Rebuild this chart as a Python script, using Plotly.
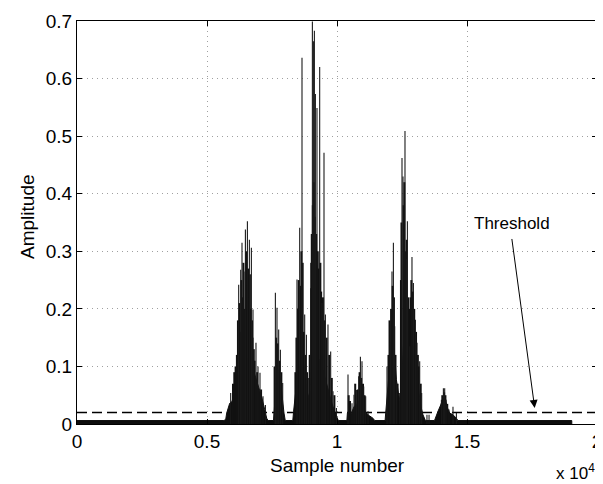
import plotly.graph_objects as go

# ---- data (sample number, amplitude) ----
# envelope of the dense (solid black) part of the signal
env_samples = [0, 5650, 5720, 5757, 5873, 5962, 6065, 6169, 6257, 6346, 6450, 6577, 6680, 6784, 6900, 7000, 7115, 7219, 7296, 7350,
               7560, 7590, 7630, 7692, 7757, 7822, 7884, 7961, 8010,
               8300, 8330, 8400, 8500, 8592, 8692, 8784, 8884, 8961, 9038, 9142, 9269, 9373, 9477, 9577, 9680, 9784, 9884, 9988, 10050,
               10380, 10400, 10527, 10654, 10784, 10884, 10988, 11115, 11257, 11384, 11450,
               11850, 11873, 11950, 12027, 12104, 12154, 12219, 12284, 12361, 12438, 12500, 12565, 12630, 12692, 12769, 12846, 12923, 13000, 13077, 13154, 13230, 13307, 13400,
               13750, 13757, 13884, 13988, 14077, 14153, 14230, 14334, 14461, 14592, 14650,
               19030, 19031]
env_amps = [0.006, 0.006, 0.008, 0.019, 0.036, 0.039, 0.059, 0.071, 0.089, 0.094, 0.106, 0.115, 0.109, 0.094, 0.077, 0.059, 0.045, 0.025, 0.010, 0.006,
            0.006, 0.025, 0.059, 0.083, 0.094, 0.077, 0.048, 0.019, 0.006,
            0.006, 0.022, 0.051, 0.068, 0.109, 0.115, 0.080, 0.045, 0.057, 0.103, 0.117, 0.115, 0.109, 0.091, 0.071, 0.054, 0.039, 0.025, 0.013, 0.006,
            0.006, 0.019, 0.016, 0.030, 0.036, 0.043, 0.033, 0.019, 0.014, 0.010, 0.006,
            0.006, 0.019, 0.065, 0.112, 0.141, 0.158, 0.123, 0.077, 0.054, 0.036, 0.089, 0.146, 0.158, 0.112, 0.112, 0.129, 0.135, 0.112, 0.083, 0.054, 0.030, 0.016, 0.006,
            0.006, 0.007, 0.022, 0.033, 0.045, 0.048, 0.030, 0.019, 0.016, 0.010, 0.006,
            0.006, 0.0]

# individual tall spikes
spike_samples = [5911, 6219, 6296, 6346, 6423, 6477, 6554, 6630, 6707, 6769, 6884, 6961, 7038, 7154, 7246,
                 7630, 7692, 7757, 7822, 7911,
                 8461, 8565, 8654, 8757, 8823, 8911, 8988, 9053, 9092, 9130, 9169, 9230, 9334, 9423, 9500, 9553, 9653, 9757, 9846, 9977,
                 10423, 10577, 10654, 10746, 10834, 10900, 10961, 11027, 11103, 11192,
                 11923, 12054, 12115, 12169, 12219, 12284, 12411, 12500, 12538, 12615, 12669, 12707, 12796, 12884, 12938, 13015, 13077, 13180, 13257, 13460, 13540,
                 14015, 14092, 14142, 14192, 14307, 14461, 14592]
spike_amps = [0.054, 0.242, 0.268, 0.315, 0.265, 0.338, 0.352, 0.320, 0.306, 0.199, 0.141, 0.100, 0.089, 0.048, 0.033,
              0.228, 0.202, 0.164, 0.129, 0.071,
              0.251, 0.341, 0.636, 0.190, 0.155, 0.080, 0.236, 0.699, 0.665, 0.683, 0.573, 0.549, 0.620, 0.210, 0.471, 0.190, 0.173, 0.126, 0.057, 0.028,
              0.086, 0.036, 0.051, 0.059, 0.083, 0.117, 0.109, 0.065, 0.048, 0.022,
              0.100, 0.141, 0.265, 0.315, 0.170, 0.071, 0.054, 0.462, 0.430, 0.509, 0.286, 0.352, 0.135, 0.290, 0.245, 0.181, 0.141, 0.109, 0.054, 0.016, 0.016,
              0.042, 0.062, 0.062, 0.042, 0.025, 0.030, 0.019]

# dense medium-height spikes that make up the dark body of each burst
body_samples = [6000, 6050, 6100, 6150, 6190, 6250, 6270, 6320, 6370, 6400, 6440, 6500, 6520, 6580, 6600, 6650, 6680, 6730, 6750, 6800, 6830, 6930, 7080,
                7600, 7660, 7720, 7790, 7860,
                8400, 8440, 8500, 8530, 8600, 8630, 8680, 8720, 8780, 8850, 8950, 9010, 9030, 9070, 9110, 9150, 9200, 9260, 9290, 9360, 9390, 9460, 9520, 9600, 9700, 9800, 9900,
                10450, 10500, 10700, 10800, 10870, 10930, 11000, 11060,
                11980, 12020, 12080, 12140, 12190, 12250, 12330, 12460, 12480, 12560, 12590, 12640, 12680, 12740, 12770, 12830, 12860, 12910, 12970, 13040, 13110, 13140, 13220,
                14050, 14120, 14170, 14240]
body_amps = [0.07, 0.09, 0.10, 0.12, 0.18, 0.21, 0.16, 0.25, 0.22, 0.28, 0.20, 0.30, 0.24, 0.27, 0.22, 0.26, 0.20, 0.18, 0.15, 0.13, 0.11, 0.09, 0.06,
             0.10, 0.15, 0.14, 0.11, 0.09,
             0.09, 0.15, 0.20, 0.25, 0.24, 0.30, 0.28, 0.16, 0.12, 0.09, 0.12, 0.28, 0.33, 0.38, 0.42, 0.36, 0.33, 0.30, 0.27, 0.28, 0.23, 0.22, 0.18, 0.15, 0.12, 0.08, 0.05,
             0.05, 0.04, 0.07, 0.06, 0.09, 0.08, 0.07, 0.05,
             0.12, 0.18, 0.20, 0.24, 0.22, 0.12, 0.07, 0.25, 0.35, 0.38, 0.42, 0.30, 0.32, 0.22, 0.20, 0.22, 0.25, 0.23, 0.20, 0.16, 0.12, 0.10, 0.07,
             0.05, 0.055, 0.05, 0.035]

threshold = 0.02
x_range = [0, 20000]
y_range = [0, 0.7]
xtick_vals = [0, 5000, 10000, 15000, 20000]
xtick_text = ["0", "0.5", "1", "1.5", "2"]
ytick_vals = [0, 0.1, 0.2, 0.3, 0.4, 0.5, 0.6, 0.7]
ytick_text = ["0", "0.1", "0.2", "0.3", "0.4", "0.5", "0.6", "0.7"]

# annotation anchor (data coordinates)
label_pos = (16718, 0.348)
arrow_tail = (16718, 0.324)
arrow_head = (17603, 0.028)

FONT = "Liberation Sans, Arial, Helvetica, sans-serif"


def stems(samples, amps):
    xs, ys = [], []
    for s, a in zip(samples, amps):
        xs += [s, s, None]
        ys += [0, a, None]
    return xs, ys


fig = go.Figure()
fig.add_trace(go.Scatter(x=x_range, y=[threshold, threshold], mode="lines",
                         line=dict(color="black", width=1.3, dash="10px,5px"),
                         hoverinfo="skip"))
fig.add_trace(go.Scatter(x=env_samples, y=env_amps, mode="lines", fill="tozeroy",
                         fillcolor="#0d0d0d", line=dict(color="#0d0d0d", width=1),
                         hoverinfo="skip"))
bx, by = stems(body_samples, body_amps)
fig.add_trace(go.Scatter(x=bx, y=by, mode="lines",
                         line=dict(color="#111111", width=2), hoverinfo="skip"))
sx, sy = stems(spike_samples, spike_amps)
fig.add_trace(go.Scatter(x=sx, y=sy, mode="lines",
                         line=dict(color="#1a1a1a", width=1.1), hoverinfo="skip"))

axis_common = dict(showline=True, linecolor="black", linewidth=1, mirror="ticks",
                   ticks="inside", ticklen=5, tickcolor="black", tickwidth=1,
                   showgrid=True, gridcolor="#a0a0a0", gridwidth=1, griddash="1px,4px",
                   zeroline=False, automargin=False,
                   tickfont=dict(family=FONT, size=19, color="black"))

fig.update_xaxes(range=x_range, tickvals=xtick_vals, ticktext=xtick_text, **axis_common)
fig.update_yaxes(range=y_range, tickvals=ytick_vals, ticktext=ytick_text, **axis_common)

fig.add_annotation(x=label_pos[0], y=label_pos[1], xref="x", yref="y", text="Threshold",
                   xanchor="center", yanchor="middle",
                   showarrow=False, font=dict(family=FONT, size=17, color="black"))
fig.add_annotation(x=arrow_head[0], y=arrow_head[1], ax=arrow_tail[0], ay=arrow_tail[1],
                   xref="x", yref="y", axref="x", ayref="y", text="",
                   showarrow=True, arrowhead=2, arrowsize=1.6, arrowwidth=1, arrowcolor="black")
fig.add_annotation(x=-0.094, y=0.514, xref="paper", yref="paper", text="Amplitude",
                   xanchor="center", yanchor="middle",
                   textangle=-90, showarrow=False, font=dict(family=FONT, size=19, color="black"))
fig.add_annotation(x=0.5, y=-0.102, xref="paper", yref="paper", text="Sample number",
                   xanchor="center", yanchor="middle",
                   showarrow=False, font=dict(family=FONT, size=19, color="black"))
fig.add_annotation(x=1.0, y=-0.087, xref="paper", yref="paper", text="x 10<sup>4</sup>",
                   xanchor="right", yanchor="top",
                   showarrow=False, font=dict(family=FONT, size=17, color="black"))

# the page body adds an 8px offset, so margins are set to land the axes box at
# x 77..597, y 21..424 of the browser window
fig.update_layout(width=603, height=484, margin=dict(l=69, r=14, t=13, b=68, autoexpand=False),
                  paper_bgcolor="white", plot_bgcolor="white", showlegend=False,
                  hovermode=False)

fig.write_html("out.html")
